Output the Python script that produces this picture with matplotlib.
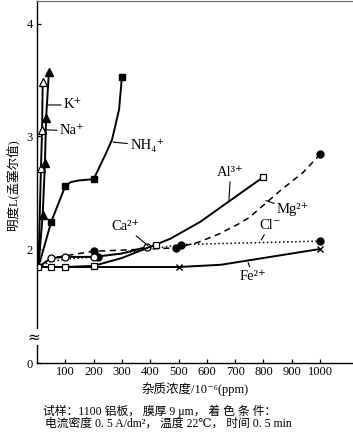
import matplotlib
matplotlib.use("Agg")
import matplotlib.pyplot as plt
import matplotlib.transforms as mtrans

plt.rcParams['font.family'] = ['Liberation Serif', 'DejaVu Serif', 'Noto Sans CJK SC']
plt.rcParams['mathtext.fontset'] = 'stix'

# ---- data (impurity concentration ppm, lightness L) ----
x_K = [5, 20, 28, 32, 42]
y_K = [1.84, 2.30, 2.76, 3.16, 3.57]
mk_K = [1, 2, 3, 4]

x_Na = [5, 14, 18, 20]
y_Na = [1.84, 2.72, 3.06, 3.48]
mk_Na = [1, 2, 3]

x_NH4 = [5, 50, 100, 120, 150, 200, 240, 265, 290, 300]
y_NH4 = [1.84, 2.24, 2.56, 2.595, 2.61, 2.62, 2.83, 2.97, 3.24, 3.53]
mk_NH4 = [1, 2, 5, 9]

x_Ca = [5, 50, 100, 200, 300, 390]
y_Ca = [1.84, 1.92, 1.93, 1.93, 1.96, 2.02]
mk_Ca = [1, 2, 3, 5]

x_Al = [5, 50, 100, 200, 300, 420, 470, 576, 682, 800]
y_Al = [1.84, 1.84, 1.84, 1.85, 1.92, 2.04, 2.09, 2.24, 2.43, 2.64]
mk_Al = [0, 1, 2, 3, 5, 9]

x_Fe = [5, 200, 500, 650, 800, 1000]
y_Fe = [1.84, 1.84, 1.84, 1.86, 1.92, 2.00]
mk_Fe = [2, 5]

x_Mg = [5, 50, 200, 490, 570, 640, 710, 750, 860, 940, 1000]
y_Mg = [1.84, 1.92, 1.98, 2.01, 2.06, 2.13, 2.22, 2.28, 2.52, 2.68, 2.84]
mk_Mg = [2, 3, 10]

x_Cl = [5, 50, 100, 215, 510, 1000]
y_Cl = [1.84, 1.89, 1.91, 1.93, 2.04, 2.07]
mk_Cl = [3, 4, 5]

x_ticks = [100, 200, 300, 400, 500, 600, 700, 800, 900, 1000]
y_tick_labels = ['0', '2', '3', '4']

W, H = 353, 434
fig = plt.figure(figsize=(W / 100, H / 100), dpi=100)
ax = fig.add_axes([37 / W, 71 / H, (352 - 37) / W, 362 / H])

ymin, ymax = 0.987, 4.204
ax.set_xlim(0, 1113)
ax.set_ylim(ymin, ymax)

lw = 1.4
ms = 5
k = 'black'

ax.plot(x_Na, y_Na, '-', color=k, lw=lw, marker='^', ms=ms + 0.5, mfc='white', mec=k, mew=0.9, markevery=mk_Na)
ax.plot(x_K, y_K, '-', color=k, lw=lw, marker='^', ms=ms + 1, mfc=k, mec=k, markevery=mk_K)
ax.plot(x_NH4, y_NH4, '-', color=k, lw=lw, marker='s', ms=ms, mfc=k, mec=k, markevery=mk_NH4)
ax.plot(x_Fe, y_Fe, '-', color=k, lw=lw, marker='x', ms=ms, mec=k, mew=1.0, markevery=mk_Fe)
ax.plot(x_Cl, y_Cl, ':', color=k, lw=1.1, marker='o', ms=ms, mfc=k, mec=k, markevery=mk_Cl)
ax.plot(x_Mg, y_Mg, '--', color=k, lw=1.1, dashes=(4, 3), marker='o', ms=ms, mfc=k, mec=k, markevery=mk_Mg)
ax.plot(x_Ca, y_Ca, '-', color=k, lw=lw, marker='o', ms=ms, mfc='white', mec=k, mew=0.9, markevery=mk_Ca)
ax.plot(x_Al, y_Al, '-', color=k, lw=lw, marker='s', ms=ms, mfc='white', mec=k, mew=0.9, markevery=mk_Al)

# axes styling
ax.spines['right'].set_visible(False)
ax.spines['top'].set_color('#666666')
for s in ['left', 'bottom']:
    ax.spines[s].set_linewidth(1.0)
ax.set_xticks(x_ticks)
ax.set_xticklabels([str(v) for v in x_ticks])
ax.set_yticks([ymin, 2, 3, 4])
ax.set_yticklabels(y_tick_labels)
ax.tick_params(axis='both', direction='in', length=3, width=0.9, labelsize=9, pad=3)
ax.tick_params(axis='x', pad=2.5)
ax.tick_params(top=False, right=False)

# axis break symbol
trans = mtrans.blended_transform_factory(ax.transAxes, ax.transData)
ax.text(-0.01, 1.218, '≈', transform=trans, ha='center', va='center', fontsize=11,
        family=['DejaVu Sans'], clip_on=False,
        bbox=dict(facecolor='white', edgecolor='none', pad=0.3))

# series labels with leader lines
def lab(text, xy, xytext, ha='left'):
    ax.annotate(text, xy=xy, xytext=xytext, ha=ha, va='center', fontsize=10.5,
                arrowprops=dict(arrowstyle='-', color=k, lw=0.8, shrinkA=0, shrinkB=0))

lab('K⁺', (39, 3.28), (95, 3.28))
lab('Na⁺', (25, 3.06), (81, 3.05))
lab('NH₄⁺', (269, 2.95), (329, 2.92))
lab('Al³⁺', (678, 2.42), (684, 2.68), ha='center')
lab('Mg²⁺', (809, 2.43), (848, 2.35))
lab('Cl⁻', (792, 2.08), (823, 2.21), ha='center')
lab('Fe²⁺', (746, 1.88), (763, 1.76), ha='center')
lab('Ca²⁺', (392, 2.03), (311, 2.20), ha='center')

# y label
fig.text(12 / W, 1 - 185 / H, '明度L(孟塞尔值)', rotation=90, ha='center', va='center', fontsize=9)
# x label
fig.text(195 / W, 1 - 389 / H, '杂质浓度/10⁻⁶(ppm)', ha='center', va='center', fontsize=9)
# caption
fig.text(43 / W, 1 - 411 / H, '试样：1100 铝板， 膜厚 9 μm， 着 色 条 件：', ha='left', va='center', fontsize=8.5)
fig.text(45 / W, 1 - 424 / H, '电流密度 0. 5 A/dm²， 温度 22℃， 时间 0. 5 min', ha='left', va='center', fontsize=8.5)

fig.savefig('out.png', dpi=100)
